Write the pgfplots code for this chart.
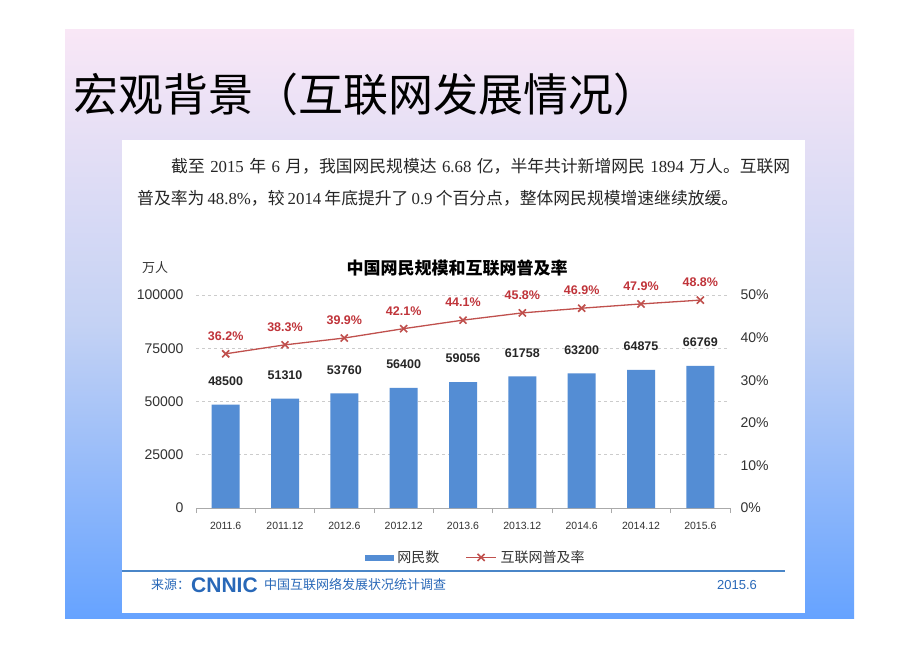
\documentclass[border=0pt]{standalone}
\usepackage{fontspec}
\setmainfont{Liberation Sans}
\newfontfamily\cjk{Noto Sans CJK SC}
\newfontfamily\tnr{Liberation Serif}
\usepackage{pgfplots}
\pgfplotsset{compat=1.18}

\definecolor{barblue}{RGB}{84,141,212}
\definecolor{linered}{RGB}{192,80,77}
\definecolor{labred}{RGB}{192,52,58}
\definecolor{srcblue}{RGB}{40,104,184}
\definecolor{srcline}{RGB}{74,134,200}
\definecolor{axgray}{RGB}{170,170,170}
\definecolor{txtgray}{RGB}{50,50,50}
\definecolor{slidetop}{RGB}{249,231,246}
\definecolor{slidemid}{RGB}{196,210,244}
\definecolor{slidebot}{RGB}{102,163,255}

\newcommand\fs[1]{\fontsize{#1}{#1}\selectfont}
\newcommand\g[1]{\hspace{2.5pt plus 1fil}{\tnr #1}\hspace{2.5pt plus 1fil}}
\newcommand\gl[1]{\hspace{2.5pt plus 1fil}{\tnr #1}}

\pgfplotsset{/pgf/number format/.cd, 1000 sep={}, assume math mode=true}
\pgfplotsset{
  barlegend/.style={legend image code/.code={\fill[barblue] (0pt,-2.5pt) rectangle (28pt,2.5pt);}},
  linelegend/.style={legend image code/.code={\draw[mark repeat=2,mark phase=2,##1] plot coordinates {(0pt,0pt) (15pt,0pt) (30pt,0pt)};}},
}

\begin{document}
\begin{tikzpicture}
\fill[white] (0pt,0pt) rectangle (920pt,651pt);
\shade[top color=slidetop, bottom color=slidebot, middle color=slidemid] (65pt,33pt) rectangle (854pt,621pt);
\fill[white] (122pt,38pt) rectangle (805pt,511pt);

% title and intro text
\node[anchor=base west, inner sep=0pt, font=\cjk\fs{45}] at (73pt,539pt) {宏观背景（互联网发展情况）};
\node[anchor=base west, inner sep=0pt, font=\cjk\fs{16.8}, text=black!85] at (171pt,478pt)
  {\makebox[619pt][s]{截至\g{2015}年\g{6}月，我国网民规模达\g{6.68}亿，半年共计新增网民\g{1894}万人。互联网}};
\node[anchor=base west, inner sep=0pt, font=\cjk\fs{16.8}, text=black!85] at (137pt,446pt)
  {\makebox[601pt][s]{普及率为\gl{48.8\%}，较\g{2014}年底提升了\g{0.9}个百分点，整体网民规模增速继续放缓。}};

% chart title
\node[font=\cjk\bfseries\fs{17}] at (457pt,383pt) {中国网民规模和互联网普及率};
\node[font=\cjk\fs{13}, text=txtgray] at (155pt,383pt) {万人};

% bars: internet users (10k)
\begin{axis}[
  at={(196pt,143pt)}, anchor=south west,
  width=534pt, height=213pt, scale only axis,
  xmin=-0.5, xmax=8.5, ymin=0, ymax=100000,
  scaled y ticks=false,
  yticklabel={\pgfmathprintnumber[fixed,precision=0]{\tick}},
  axis x line*=bottom, axis y line*=left,
  y axis line style={draw=none},
  x axis line style={-, draw=axgray, line width=0.8pt},
  ytick={0,25000,50000,75000,100000},
  ymajorgrids, grid style={dashed, gray!40, line width=0.6pt},
  xtick={0,...,8},
  xticklabels={2011.6,2011.12,2012.6,2012.12,2013.6,2013.12,2014.6,2014.12,2015.6},
  major tick length=0pt,
  tick style={draw=axgray, line width=0.8pt},
  extra x ticks={-0.5,0.5,...,8.5},
  extra x tick labels={},
  extra x tick style={major tick length=5pt, tick align=outside},
  yticklabel style={font=\fs{14}, text=txtgray, xshift=-9pt},
  xticklabel style={font=\fs{10.5}, text=txtgray, yshift=-11pt},
]
\addplot[ybar, bar width=28pt, fill=barblue, draw=none,
  nodes near coords,
  every node near coord/.append style={font=\bfseries\fs{12.5}, text=black!85, inner sep=0pt, yshift=19pt}]
  coordinates {
  (0,48500) (1,51310) (2,53760) (3,56400) (4,59056)
  (5,61758) (6,63200) (7,64875) (8,66769)
};
\end{axis}

% line: internet penetration (%)
\begin{axis}[
  at={(196pt,143pt)}, anchor=south west,
  width=534pt, height=213pt, scale only axis,
  xmin=-0.5, xmax=8.5, ymin=0, ymax=50,
  axis x line=none, axis y line*=right,
  y axis line style={draw=none},
  xtick=\empty,
  ytick={0,10,20,30,40,50},
  yticklabel={\pgfmathprintnumber{\tick}\%},
  major tick length=0pt,
  yticklabel style={font=\fs{14}, text=txtgray, xshift=7pt},
  clip=false,
  legend columns=2,
  legend style={draw=none, fill=none, font=\cjk\fs{14}, text=black!80,
    at={(0.526,-0.232)}, anchor=center,
    nodes={inner xsep=4pt},
    /tikz/every even column/.append style={column sep=22pt}},
]
\addlegendimage{barlegend}
\addlegendentry{网民数}
\addplot[linered, line width=1.3pt, mark=x, mark size=5pt,
  mark options={line width=1.6pt}, linelegend,
  nodes near coords={\pgfmathprintnumber[fixed,fixed zerofill,precision=1]{\pgfplotspointmeta}\%},
  every node near coord/.append style={font=\bfseries\fs{12.5}, text=labred, inner sep=0pt, anchor=south, yshift=12.5pt}]
  coordinates {
  (0,36.2) (1,38.3) (2,39.9) (3,42.1) (4,44.1)
  (5,45.8) (6,46.9) (7,47.9) (8,48.8)
};
\addlegendentry{互联网普及率}
\end{axis}

% source line
\draw[line width=2pt, srcline] (122pt,80pt) -- (785pt,80pt);
\node[anchor=west, inner sep=0pt, font=\cjk\fs{13}, text=srcblue] at (151pt,66pt) {来源：};
\node[anchor=west, inner sep=0pt, font=\bfseries\fs{21}, text=srcblue] at (191pt,66pt) {CNNIC};
\node[anchor=west, inner sep=0pt, font=\cjk\fs{13}, text=srcblue] at (264pt,66pt) {中国互联网络发展状况统计调查};
\node[font=\fs{13}, text=srcblue] at (737pt,66pt) {2015.6};
\end{tikzpicture}
\end{document}
